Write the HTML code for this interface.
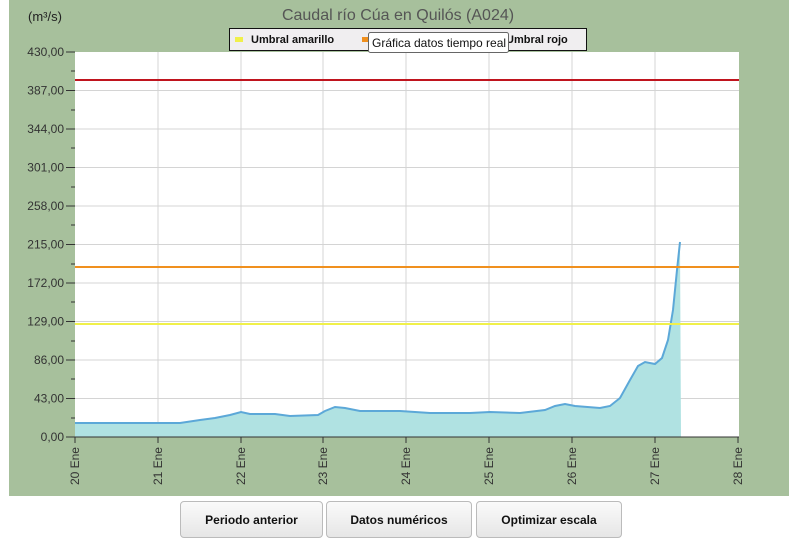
<!DOCTYPE html>
<html><head><meta charset="utf-8"><style>
body{margin:0;width:803px;height:554px;background:#fff;font-family:"Liberation Sans",sans-serif;position:relative;overflow:hidden}
.btn{position:absolute;top:501px;height:35px;border:1px solid #bbb;border-radius:4px;background:linear-gradient(#fafafa,#e6e6e6);font-weight:bold;font-size:12px;display:flex;align-items:center;justify-content:center;color:#111}
</style></head><body>
<svg width="803" height="554" style="position:absolute;left:0;top:0" font-family="Liberation Sans, sans-serif">
<rect x="9" y="0" width="780" height="496" fill="#a7c09c"/>
<rect x="75" y="52" width="664" height="385" fill="#fff"/>
<g stroke="#d4d4d4" stroke-width="1">
<line x1="158" y1="52" x2="158" y2="437"/><line x1="241" y1="52" x2="241" y2="437"/><line x1="323" y1="52" x2="323" y2="437"/><line x1="406" y1="52" x2="406" y2="437"/><line x1="489" y1="52" x2="489" y2="437"/><line x1="572" y1="52" x2="572" y2="437"/><line x1="655" y1="52" x2="655" y2="437"/>
<line x1="75" y1="90.5" x2="739" y2="90.5"/><line x1="75" y1="129" x2="739" y2="129"/><line x1="75" y1="167.5" x2="739" y2="167.5"/><line x1="75" y1="206" x2="739" y2="206"/><line x1="75" y1="244.5" x2="739" y2="244.5"/><line x1="75" y1="283" x2="739" y2="283"/><line x1="75" y1="321.5" x2="739" y2="321.5"/><line x1="75" y1="360" x2="739" y2="360"/><line x1="75" y1="398.5" x2="739" y2="398.5"/>
</g>
<path d="M75,423 L180,423 L200,420 L215,418 L230,415 L241,412 L250,414 L275,414 L290,416 L318,415 L325,411 L335,407 L345,408 L360,411 L400,411 L430,413 L470,413 L490,412 L520,413 L545,410 L555,406 L565,404 L575,406 L600,408 L610,406 L620,398 L630,380 L638,366 L645,362 L655,364 L662,358 L668,340 L673,310 L677,270 L680,242 L681,437 L75,437 Z" fill="#b0e2e2"/>
<path d="M75,423 L180,423 L200,420 L215,418 L230,415 L241,412 L250,414 L275,414 L290,416 L318,415 L325,411 L335,407 L345,408 L360,411 L400,411 L430,413 L470,413 L490,412 L520,413 L545,410 L555,406 L565,404 L575,406 L600,408 L610,406 L620,398 L630,380 L638,366 L645,362 L655,364 L662,358 L668,340 L673,310 L677,270 L680,242" fill="none" stroke="#5ca8d8" stroke-width="2"/>
<line x1="75" y1="80" x2="739" y2="80" stroke="#c0141e" stroke-width="2"/>
<line x1="75" y1="267" x2="739" y2="267" stroke="#f0901e" stroke-width="2"/>
<line x1="75" y1="324" x2="739" y2="324" stroke="#f0f04a" stroke-width="2"/>
<g stroke="#333" stroke-width="1">
<line x1="75" y1="437" x2="739" y2="437"/>
<line x1="66" y1="52" x2="75" y2="52"/><line x1="66" y1="90.5" x2="75" y2="90.5"/><line x1="66" y1="129" x2="75" y2="129"/><line x1="66" y1="167.5" x2="75" y2="167.5"/><line x1="66" y1="206" x2="75" y2="206"/><line x1="66" y1="244.5" x2="75" y2="244.5"/><line x1="66" y1="283" x2="75" y2="283"/><line x1="66" y1="321.5" x2="75" y2="321.5"/><line x1="66" y1="360" x2="75" y2="360"/><line x1="66" y1="398.5" x2="75" y2="398.5"/><line x1="66" y1="437" x2="75" y2="437"/>
<line x1="71" y1="71" x2="75" y2="71"/><line x1="71" y1="110" x2="75" y2="110"/><line x1="71" y1="148" x2="75" y2="148"/><line x1="71" y1="187" x2="75" y2="187"/><line x1="71" y1="225" x2="75" y2="225"/><line x1="71" y1="264" x2="75" y2="264"/><line x1="71" y1="302" x2="75" y2="302"/><line x1="71" y1="341" x2="75" y2="341"/><line x1="71" y1="379" x2="75" y2="379"/><line x1="71" y1="418" x2="75" y2="418"/>
<line x1="75" y1="437" x2="75" y2="443"/><line x1="158" y1="437" x2="158" y2="443"/><line x1="241" y1="437" x2="241" y2="443"/><line x1="323" y1="437" x2="323" y2="443"/><line x1="406" y1="437" x2="406" y2="443"/><line x1="489" y1="437" x2="489" y2="443"/><line x1="572" y1="437" x2="572" y2="443"/><line x1="655" y1="437" x2="655" y2="443"/><line x1="738" y1="437" x2="738" y2="443"/>
</g>
<g font-size="12" fill="#333" text-anchor="end">
<text x="64" y="56">430,00</text><text x="64" y="94.5">387,00</text><text x="64" y="133">344,00</text><text x="64" y="171.5">301,00</text><text x="64" y="210">258,00</text><text x="64" y="248.5">215,00</text><text x="64" y="287">172,00</text><text x="64" y="325.5">129,00</text><text x="64" y="364">86,00</text><text x="64" y="402.5">43,00</text><text x="64" y="441">0,00</text>
</g>
<g font-size="12" fill="#333" text-anchor="end">
<text transform="translate(79,447) rotate(-90)">20 Ene</text><text transform="translate(162,447) rotate(-90)">21 Ene</text><text transform="translate(245,447) rotate(-90)">22 Ene</text><text transform="translate(327,447) rotate(-90)">23 Ene</text><text transform="translate(410,447) rotate(-90)">24 Ene</text><text transform="translate(493,447) rotate(-90)">25 Ene</text><text transform="translate(576,447) rotate(-90)">26 Ene</text><text transform="translate(659,447) rotate(-90)">27 Ene</text><text transform="translate(742,447) rotate(-90)">28 Ene</text>
</g>
<text x="28" y="21" font-size="13" fill="#222">(m³/s)</text>
<text x="398" y="20" font-size="16" fill="#555" text-anchor="middle">Caudal río Cúa en Quilós  (A024)</text>
<rect x="229.5" y="28.5" width="357" height="22" fill="#f0eef0" stroke="#111"/>
<rect x="235" y="37" width="8" height="5" fill="#f0f04a"/>
<text x="251" y="43" font-size="11" font-weight="bold" fill="#111">Umbral amarillo</text>
<rect x="362" y="37" width="8" height="5" fill="#f0901e"/>
<text x="506" y="43" font-size="11" font-weight="bold" fill="#111">Umbral rojo</text>
<rect x="368.5" y="32.5" width="140" height="20" rx="2" fill="#fff" stroke="#666"/>
<text x="372" y="47" font-size="12" fill="#111">Gráfica datos tiempo real</text>
</svg>
<div class="btn" style="left:180px;width:141px">Periodo anterior</div>
<div class="btn" style="left:326px;width:144px">Datos numéricos</div>
<div class="btn" style="left:476px;width:144px">Optimizar escala</div>
</body></html>
